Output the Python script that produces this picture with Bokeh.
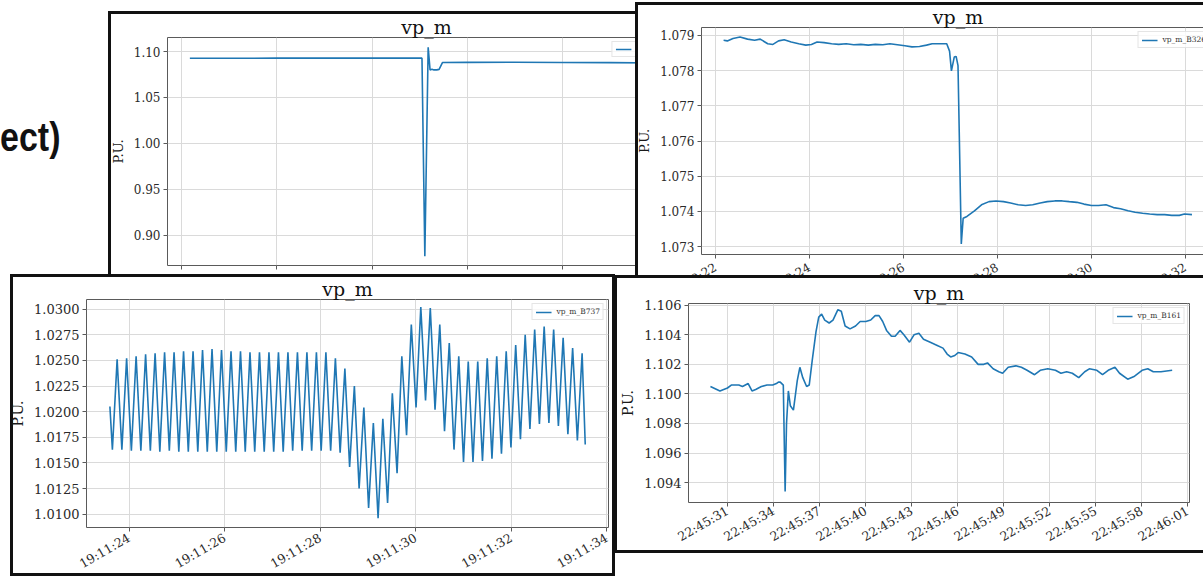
import math
from bokeh.plotting import figure
from bokeh.layouts import column
from bokeh.models import Range1d, FixedTicker, NumeralTickFormatter, Div
from bokeh.embed import file_html
from bokeh.resources import INLINE

# ---------------- data ----------------
# Top-left panel (seconds from an arbitrary start)
tl_t = [0.17, 1.0, 2.0, 3.0, 4.0, 5.05, 5.11, 5.18, 5.22, 5.26, 5.30, 5.36, 5.41, 5.48, 6.0, 7.0, 8.0, 9.0, 10.1]
tl_v = [1.0927, 1.0927, 1.0928, 1.0928, 1.0928, 1.0928, 0.8771, 1.1047, 1.0800, 1.0806, 1.0800, 1.0800, 1.0806,
        1.0880, 1.0882, 1.0884, 1.0881, 1.0879, 1.0876]
tl_xticks = [0, 2, 4, 6, 8, 10]
tl_xlabels = ["14:02:10", "14:02:12", "14:02:14", "14:02:16", "14:02:18", "14:02:20"]
tl_yticks = [0.90, 0.95, 1.00, 1.05, 1.10]
tl_legend = "vp_m_B109"

# Top-right panel
tr_t = [22.17, 22.25, 22.37, 22.52, 22.68, 22.83, 22.95, 23.11, 23.22, 23.34, 23.46, 23.61, 23.77, 23.92, 24.04,
        24.16, 24.31, 24.47, 24.62, 24.78, 24.94, 25.09, 25.25, 25.40, 25.56, 25.71, 25.87, 26.03, 26.18, 26.34,
        26.49, 26.61, 26.77, 26.92, 26.98, 27.02, 27.08, 27.12, 27.16, 27.19, 27.23, 27.27, 27.35, 27.51, 27.66,
        27.82, 27.97, 28.13, 28.28, 28.44, 28.60, 28.75, 28.91, 29.06, 29.22, 29.38, 29.53, 29.69, 29.84, 30.00,
        30.15, 30.31, 30.47, 30.62, 30.78, 30.93, 31.09, 31.24, 31.40, 31.56, 31.71, 31.87, 31.98, 32.14]
tr_v = [1.07886, 1.07884, 1.07891, 1.07895, 1.07889, 1.07886, 1.07889, 1.07876, 1.07874, 1.07884, 1.07887,
        1.07881, 1.07876, 1.07872, 1.07874, 1.07881, 1.07879, 1.07876, 1.07874, 1.07876, 1.07873, 1.07874,
        1.07872, 1.07874, 1.07873, 1.07876, 1.07873, 1.07870, 1.07867, 1.07868, 1.07872, 1.07876, 1.07876,
        1.07876, 1.07855, 1.07799, 1.07838, 1.07840, 1.07814, 1.07600, 1.07308, 1.07381, 1.07386, 1.07402,
        1.07419, 1.07428, 1.07430, 1.07428, 1.07424, 1.07419, 1.07417, 1.07419, 1.07424, 1.07428, 1.07430,
        1.07430, 1.07428, 1.07426, 1.07421, 1.07417, 1.07417, 1.07419, 1.07411, 1.07408, 1.07402, 1.07398,
        1.07395, 1.07393, 1.07391, 1.07391, 1.07389, 1.07389, 1.07393, 1.07391]
tr_xticks = [22, 24, 26, 28, 30, 32]
tr_xlabels = ["20:19:22", "20:19:24", "20:19:26", "20:19:28", "20:19:30", "20:19:32"]
tr_yticks = [1.073, 1.074, 1.075, 1.076, 1.077, 1.078, 1.079]
tr_legend = "vp_m_B326"

# Bottom-left panel: oscillation, successive troughs and peaks (seconds after 19:11:00)
bl_start = (23.60, 1.0205)
bl_end = (33.553, 1.0168)
bl_first_trough_t = 23.652
bl_period = 0.1987
bl_troughs = [1.0163, 1.0163, 1.0162, 1.0162, 1.0162, 1.0161, 1.0162, 1.0161, 1.0161, 1.0161,
              1.0161, 1.0161, 1.0161, 1.0161, 1.0161, 1.0161, 1.0161, 1.0161, 1.0161, 1.0162,
              1.0162, 1.0162, 1.0162, 1.0162, 1.0160, 1.0146, 1.0125, 1.0106, 1.0096, 1.0111,
              1.0140, 1.0177, 1.0204, 1.0211, 1.0202, 1.0181, 1.0163, 1.0151, 1.0151, 1.0152,
              1.0154, 1.0159, 1.0165, 1.0173, 1.0183, 1.0188, 1.0189, 1.0186, 1.0178, 1.0172]
bl_peaks = [1.0251, 1.0252, 1.0254, 1.0256, 1.0257, 1.0258, 1.0258, 1.0259, 1.0259, 1.0260,
            1.0261, 1.0260, 1.0259, 1.0259, 1.0258, 1.0258, 1.0258, 1.0258, 1.0258, 1.0258,
            1.0258, 1.0258, 1.0258, 1.0252, 1.0242, 1.0225, 1.0204, 1.0189, 1.0193, 1.0218,
            1.0254, 1.0285, 1.0302, 1.0301, 1.0285, 1.0267, 1.0254, 1.0249, 1.0249, 1.0252,
            1.0254, 1.0259, 1.0265, 1.0275, 1.0280, 1.0283, 1.0280, 1.0272, 1.0262, 1.0257]
bl_xticks = [24, 26, 28, 30, 32, 34]
bl_xlabels = ["19:11:24", "19:11:26", "19:11:28", "19:11:30", "19:11:32", "19:11:34"]
bl_yticks = [1.0100, 1.0125, 1.0150, 1.0175, 1.0200, 1.0225, 1.0250, 1.0275, 1.0300]
bl_legend = "vp_m_B737"

# Bottom-right panel (seconds after 22:45:00)
br_t = [29.89, 30.51, 31.00, 31.25, 31.74, 31.98, 32.35, 32.60, 32.84, 33.21, 33.58, 33.95, 34.19, 34.32, 34.44,
        34.64, 34.76, 34.85, 34.97, 35.10, 35.30, 35.55, 35.72, 35.91, 36.16, 36.33, 36.53, 36.77, 36.95, 37.14,
        37.34, 37.63, 37.88, 38.20, 38.42, 38.67, 38.99, 39.35, 39.65, 40.02, 40.34, 40.63, 40.88, 41.12, 41.37,
        41.69, 41.93, 42.25, 42.50, 42.87, 43.16, 43.48, 43.78, 44.22, 44.64, 45.05, 45.32, 45.55, 45.82, 46.04,
        46.48, 46.92, 47.34, 47.71, 47.95, 48.32, 48.69, 48.94, 49.30, 49.80, 50.16, 50.53, 51.02, 51.39, 51.88,
        52.38, 52.74, 53.11, 53.48, 53.90, 54.29, 54.59, 55.08, 55.45, 55.82, 56.26, 56.56, 57.09, 57.54, 58.03,
        58.40, 58.76, 59.26, 59.99]
br_v = [1.1005, 1.1002, 1.1004, 1.1006, 1.1006, 1.1005, 1.1007, 1.1002, 1.1003, 1.1005, 1.1006, 1.1006, 1.1007,
        1.1008, 1.1008, 1.1006, 1.0934, 1.0980, 1.1002, 1.0992, 1.0989, 1.1009, 1.1018, 1.1011, 1.1005, 1.1006,
        1.1023, 1.1042, 1.1052, 1.1054, 1.1050, 1.1048, 1.1050, 1.1057, 1.1056, 1.1046, 1.1044, 1.1046, 1.1049,
        1.1049, 1.1050, 1.1053, 1.1053, 1.1049, 1.1043, 1.1039, 1.1039, 1.1043, 1.1040, 1.1035, 1.1040, 1.1041,
        1.1037, 1.1035, 1.1033, 1.1031, 1.1027, 1.1025, 1.1026, 1.1028, 1.1027, 1.1025, 1.1020, 1.1020, 1.1021,
        1.1017, 1.1015, 1.1014, 1.1018, 1.1019, 1.1018, 1.1016, 1.1013, 1.1016, 1.1017, 1.1016, 1.1014, 1.1015,
        1.1014, 1.1011, 1.1015, 1.1017, 1.1016, 1.1013, 1.1016, 1.1018, 1.1014, 1.1010, 1.1012, 1.1016, 1.1017,
        1.1015, 1.1015, 1.1016]
br_xticks = [31, 34, 37, 40, 43, 46, 49, 52, 55, 58, 61]
br_xlabels = ["22:45:31", "22:45:34", "22:45:37", "22:45:40", "22:45:43", "22:45:46",
              "22:45:49", "22:45:52", "22:45:55", "22:45:58", "22:46:01"]
br_yticks = [1.094, 1.096, 1.098, 1.100, 1.102, 1.104, 1.106]
br_legend = "vp_m_B161"

slide_title_tail = "ect)"

# build the zig-zag series of the oscillating panel from its extrema
bl_t, bl_v = [bl_start[0]], [bl_start[1]]
for k, (tv, pv) in enumerate(zip(bl_troughs, bl_peaks)):
    tt = bl_first_trough_t + k * bl_period
    bl_t += [tt, tt + bl_period / 2]
    bl_v += [tv, pv]
bl_t.append(bl_end[0])
bl_v.append(bl_end[1])

# ---------------- styling ----------------
SERIF = "DejaVu Serif"
BLUE = "#1f77b4"
MB_LEFT = 100  # generous, so that the frame sits exactly MB_LEFT px right of the figure's left edge


def panel(frame_pos, mbt, fsize, xr, yr, t, v, xticks, xlabels, yticks, yfmt, legend, tick_px, xlab_px, rot,
          xstandoff, z, legend_px=7.5):
    fl, ft = frame_pos
    fw, fh = fsize
    p = figure(frame_width=fw, frame_height=fh, x_range=Range1d(*xr), y_range=Range1d(*yr),
               output_backend="svg", toolbar_location=None,
               min_border_left=MB_LEFT, min_border_top=mbt, min_border_right=10, min_border_bottom=30,
               background_fill_color="white", border_fill_color="white", border_fill_alpha=0.0)
    p.line(t, v, line_color=BLUE, line_width=1.6, legend_label=legend)

    p.title.text = "vp_m"
    p.title.align = "center"
    p.title.text_font = SERIF
    p.title.text_font_size = "19px"
    p.title.text_font_style = "normal"
    p.title.text_color = "#111111"
    p.title.standoff = 0

    p.outline_line_color = "#5a5a5a"
    p.outline_line_width = 1
    p.grid.grid_line_color = "#dadada"
    p.grid.grid_line_width = 1

    p.axis.axis_line_color = None
    p.axis.major_tick_line_color = "#5a5a5a"
    p.axis.major_tick_out = 4
    p.axis.major_tick_in = 0
    p.axis.minor_tick_line_color = None
    p.axis.major_label_text_font = SERIF
    p.axis.major_label_text_color = "#2a2a2a"

    p.xaxis.ticker = FixedTicker(ticks=xticks, minor_ticks=[])
    p.xaxis.major_label_overrides = {tk: lb for tk, lb in zip(xticks, xlabels)}
    p.xaxis.major_label_orientation = rot
    p.xaxis.major_label_text_font_size = f"{xlab_px}px"
    p.xaxis.major_label_standoff = xstandoff

    p.yaxis.ticker = FixedTicker(ticks=yticks, minor_ticks=[])
    p.yaxis.formatter = NumeralTickFormatter(format=yfmt)
    p.yaxis.major_label_text_font_size = f"{tick_px}px"
    p.yaxis.major_label_standoff = 3
    p.yaxis.axis_label = "P.U."
    p.yaxis.axis_label_text_font = SERIF
    p.yaxis.axis_label_text_font_style = "normal"
    p.yaxis.axis_label_text_font_size = f"{tick_px + 1}px"
    p.yaxis.axis_label_text_color = "#1a1a1a"
    p.yaxis.axis_label_standoff = 5

    lg = p.legend[0]
    lg.location = "top_right"
    lg.margin = 4
    lg.padding = 3
    lg.spacing = 0
    lg.glyph_width = 16
    lg.glyph_height = 8
    lg.label_height = 8
    lg.label_standoff = 5
    lg.label_text_font = SERIF
    lg.label_text_font_size = f"{legend_px}px"
    lg.label_text_color = "#333333"
    lg.border_line_color = "#cccccc"
    lg.border_line_width = 1
    lg.background_fill_alpha = 0.8

    p.styles = {"position": "absolute", "left": f"{fl - MB_LEFT}px", "top": f"{ft - mbt}px",
                "z-index": str(z)}
    return p


def box(left, top, w, h, z, open_right=False):
    st = {"position": "absolute", "left": f"{left}px", "top": f"{top}px", "z-index": str(z),
          "border": "3px solid #111111", "box-sizing": "border-box",
          "background-color": "white", "pointer-events": "none"}
    if open_right:
        st["border-right"] = "none"
    return Div(text="", width=w, height=h, margin=(0, 0, 0, 0), styles=st)


b_tl = box(108, 11, 600, 300, 1)
p_tl = panel((167, 37), 26, (518, 228), (-0.30, 10.59), (0.8669, 1.1153),
             tl_t, tl_v, tl_xticks, tl_xlabels, tl_yticks, "0.00", tl_legend, 12, 12, "horizontal", 14, 2,
             legend_px=7)
b_tr = box(635, 2, 620, 309, 3, open_right=True)
p_tr = panel((701, 27), 25, (513, 227), (21.70, 32.62), (1.07278, 1.07922),
             tr_t, tr_v, tr_xticks, tr_xlabels, tr_yticks, "0.000", tr_legend, 12, 12, math.pi / 6, 8, 4)
b_bl = box(10, 274, 605, 302, 5)
p_bl = panel((86, 299), 25, (522, 228), (23.11, 34.04), (1.0087, 1.03094),
             bl_t, bl_v, bl_xticks, bl_xlabels, bl_yticks, "0.0000", bl_legend, 13, 12.5, math.pi / 6, 5, 6)
b_br = box(614, 275, 620, 278, 7, open_right=True)
p_br = panel((688, 303), 28, (501, 199), (28.46, 61.12), (1.09265, 1.10612),
             br_t, br_v, br_xticks, br_xlabels, br_yticks, "0.000", br_legend, 13, 12.5, math.pi / 6, 3, 8)

title_div = Div(
    text=f'<span style="display: inline-block; transform: scaleX(0.85); transform-origin: 0 50%; '
         f'font-family: \'Liberation Sans\', Arial, sans-serif; font-weight: bold; '
         f'font-size: 40px; line-height: 40px; color: #111111; white-space: nowrap;">{slide_title_tail}</span>',
    width=90, height=44, margin=(0, 0, 0, 0),
    styles={"position": "absolute", "left": "0px", "top": "117px", "z-index": "0"})

root = column(title_div, b_tl, p_tl, b_tr, p_tr, b_bl, p_bl, b_br, p_br,
              width=1203, height=577, sizing_mode="fixed",
              styles={"position": "relative", "overflow": "hidden", "background-color": "white"})

open("out.html", "w").write(file_html(root, INLINE))
